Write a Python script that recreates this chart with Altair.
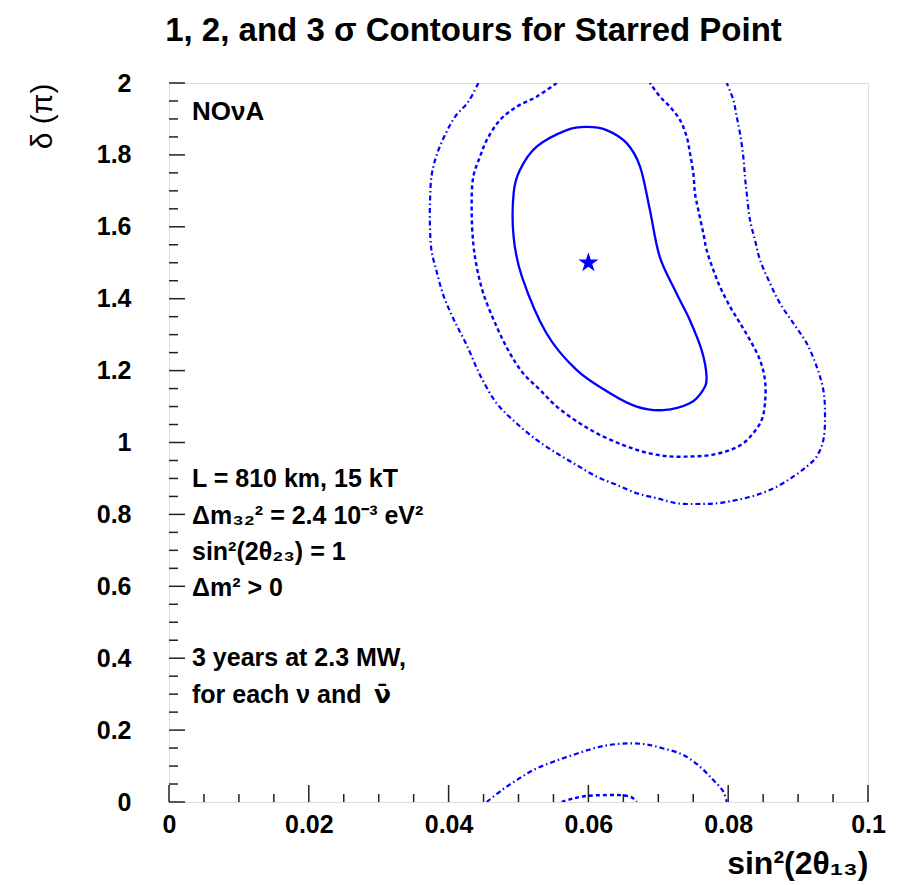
import altair as alt
import pandas as pd

# ---- data ----
star_x = [0.060]
star_y = [1.50]

s1_x = [0.0598, 0.0626, 0.0655, 0.0674, 0.0688, 0.0702, 0.0726, 0.0745, 0.0762, 0.0769, 0.0764, 0.0745,
        0.0707, 0.0669, 0.0631, 0.0583, 0.0540, 0.0505, 0.0493, 0.0493, 0.0502, 0.0526, 0.0569]
s1_y = [1.878, 1.869, 1.832, 1.767, 1.647, 1.517, 1.415, 1.341, 1.257, 1.183, 1.146, 1.109,
        1.090, 1.100, 1.137, 1.202, 1.304, 1.461, 1.572, 1.693, 1.758, 1.823, 1.869]

s2_x = [0.05547, 0.05260, 0.04974, 0.04735, 0.04545, 0.04449, 0.04353, 0.04330, 0.04353, 0.04402,
        0.04496, 0.04688, 0.04878, 0.05069, 0.05308, 0.05547, 0.05880, 0.06166, 0.06499, 0.06785,
        0.07120, 0.07454, 0.07740, 0.08026, 0.08216, 0.08359, 0.08479, 0.08526, 0.08526, 0.08455,
        0.08312, 0.08169, 0.08026, 0.07883, 0.07787, 0.07692, 0.07644, 0.07572, 0.07525, 0.07501,
        0.07454, 0.07406, 0.07310, 0.07167, 0.07024, 0.06881]
s2_y = [2.000, 1.962, 1.934, 1.897, 1.841, 1.795, 1.739, 1.647, 1.554, 1.489,
        1.415, 1.322, 1.248, 1.192, 1.146, 1.100, 1.053, 1.021, 0.993, 0.974,
        0.962, 0.961, 0.965, 0.979, 0.998, 1.026, 1.063, 1.109, 1.174, 1.229,
        1.285, 1.332, 1.378, 1.433, 1.480, 1.535, 1.582, 1.647, 1.693, 1.749,
        1.804, 1.851, 1.897, 1.934, 1.962, 2.000]

s2b_x = [0.05618, 0.05784, 0.05976, 0.06213, 0.06452, 0.06619, 0.06691]
s2b_y = [0.000, 0.010, 0.017, 0.019, 0.019, 0.013, 0.000]

s3_x = [0.04425, 0.04282, 0.04092, 0.03948, 0.03830, 0.03758, 0.03734, 0.03734, 0.03758, 0.03830,
        0.03924, 0.04067, 0.04259, 0.04449, 0.04688, 0.04974, 0.05260, 0.05547, 0.05833, 0.06119,
        0.06405, 0.06691, 0.06977, 0.07263, 0.07549, 0.07835, 0.08122, 0.08408, 0.08694, 0.08931,
        0.09123, 0.09266, 0.09361, 0.09385, 0.09361, 0.09266, 0.09123, 0.08931, 0.08741, 0.08598,
        0.08455, 0.08383, 0.08312, 0.08265, 0.08240, 0.08216, 0.08169, 0.08122, 0.08073, 0.07979]
s3_y = [2.000, 1.948, 1.906, 1.855, 1.800, 1.744, 1.670, 1.596, 1.531, 1.475,
        1.410, 1.345, 1.271, 1.188, 1.109, 1.053, 1.007, 0.970, 0.937, 0.905,
        0.882, 0.859, 0.845, 0.831, 0.829, 0.831, 0.840, 0.854, 0.877, 0.905,
        0.933, 0.961, 1.007, 1.081, 1.146, 1.211, 1.276, 1.332, 1.387, 1.443,
        1.508, 1.563, 1.619, 1.693, 1.739, 1.795, 1.860, 1.906, 1.953, 2.000]

s3b_x = [0.04545, 0.04760, 0.04974, 0.05212, 0.05498, 0.05784, 0.06070, 0.06309, 0.06595, 0.06834,
         0.07072, 0.07358, 0.07597, 0.07787, 0.07930, 0.07979]
s3b_y = [0.000, 0.033, 0.061, 0.089, 0.112, 0.131, 0.149, 0.159, 0.163, 0.160,
         0.149, 0.131, 0.098, 0.061, 0.029, 0.000]

x_major = [0, 0.02, 0.04, 0.06, 0.08, 0.1]
x_minor = [0.005, 0.01, 0.015, 0.025, 0.03, 0.035, 0.045, 0.05, 0.055,
           0.065, 0.07, 0.075, 0.085, 0.09, 0.095]
y_major = [0, 0.2, 0.4, 0.6, 0.8, 1.0, 1.2, 1.4, 1.6, 1.8, 2.0]
y_minor = [0.05, 0.1, 0.15, 0.25, 0.3, 0.35, 0.45, 0.5, 0.55, 0.65, 0.7, 0.75,
           0.85, 0.9, 0.95, 1.05, 1.1, 1.15, 1.25, 1.3, 1.35, 1.45, 1.5, 1.55,
           1.65, 1.7, 1.75, 1.85, 1.9, 1.95]

title_text = "1, 2, and 3 σ Contours for Starred Point"
x_title = "sin²(2θ₁₃)"
y_title = "δ (π)"
label_nova = "NOνA"
info_lines = ["L = 810 km, 15 kT", "Δm₃₂² = 2.4 10⁻³ eV²", "sin²(2θ₂₃) = 1", "Δm² > 0",
              "3 years at 2.3 MW,", "for each ν and"]
nubar = "ν̄"

# ---- layout / style ----
W, H = 699, 719
FONT = "Liberation Sans"
BLUE = "#0000ff"
TXT = 25
info_y = [404, 441, 477, 513, 583, 620]

xs = alt.Scale(domain=[0, 0.1], nice=False, zero=False)
ys = alt.Scale(domain=[0, 2], nice=False, zero=False)


def df_xy(xv, yv):
    return pd.DataFrame({"x": xv, "y": yv, "o": list(range(len(xv)))})


x_axis = alt.Axis(values=x_major, format="~g", title=x_title, ticks=False, tickSize=0, domain=False,
                  grid=False, labelPadding=10, labelFontSize=25, labelFontWeight="bold",
                  labelFont=FONT, labelColor="black", labelOverlap=False, labelFlush=False,
                  titleFont=FONT, titleFontSize=32, titleFontWeight="bold", titleColor="black",
                  titleAlign="right", titleBaseline="alphabetic", titleX=W, titleY=71)
y_axis = alt.Axis(values=y_major, format="~g", title=y_title, ticks=False, tickSize=0, domain=False,
                  grid=False, labelPadding=38, labelFontSize=25, labelFontWeight="bold",
                  labelFont=FONT, labelColor="black", labelOverlap=False,
                  titleFont=FONT, titleFontSize=30, titleFontWeight="normal", titleColor="black",
                  titleAngle=270, titleAlign="right", titleBaseline="middle", titleX=-127, titleY=0)

base_axes = alt.Chart(pd.DataFrame({"x": [0.0], "y": [0.0]})).mark_point(opacity=0).encode(
    x=alt.X("x:Q", scale=xs, axis=x_axis),
    y=alt.Y("y:Q", scale=ys, axis=y_axis),
)


def contour(xv, yv, dash=None, interp="catmull-rom", width=2.2):
    kw = dict(color=BLUE, strokeWidth=width, interpolate=interp, clip=True)
    if dash:
        kw["strokeDash"] = dash
    return alt.Chart(df_xy(xv, yv)).mark_line(**kw).encode(
        x=alt.X("x:Q", scale=xs), y=alt.Y("y:Q", scale=ys), order="o:Q")


c1 = contour(s1_x, s1_y, interp="cardinal-closed", width=2.3)
c2 = contour(s2_x, s2_y, dash=[4, 3], width=2.4)
c2b = contour(s2b_x, s2b_y, dash=[4, 3], width=2.4)
c3 = contour(s3_x, s3_y, dash=[5, 3, 1.5, 3], width=2.2)
c3b = contour(s3b_x, s3b_y, dash=[5, 3, 1.5, 3], width=2.2)

STAR = ("M0,-1L0.223,-0.307L0.951,-0.309L0.361,0.117L0.588,0.809L0,0.38"
        "L-0.588,0.809L-0.361,0.117L-0.951,-0.309L-0.223,-0.307Z")
star = alt.Chart(pd.DataFrame({"x": star_x, "y": star_y})).mark_point(
    shape=STAR, filled=True, color=BLUE, size=450, opacity=1, strokeWidth=0).encode(
    x=alt.X("x:Q", scale=xs), y=alt.Y("y:Q", scale=ys))

# inside tick marks
xmaj = alt.Chart(pd.DataFrame({"x": x_major})).mark_rule(color="#222", strokeWidth=1.5).encode(
    x=alt.X("x:Q", scale=xs), y=alt.value(H), y2=alt.value(H - 17))
xmin = alt.Chart(pd.DataFrame({"x": x_minor})).mark_rule(color="#222", strokeWidth=1.5).encode(
    x=alt.X("x:Q", scale=xs), y=alt.value(H), y2=alt.value(H - 8))
ymaj = alt.Chart(pd.DataFrame({"y": y_major})).mark_rule(color="#222", strokeWidth=1.5).encode(
    y=alt.Y("y:Q", scale=ys), x=alt.value(0), x2=alt.value(16))
ymin = alt.Chart(pd.DataFrame({"y": y_minor})).mark_rule(color="#222", strokeWidth=1.5).encode(
    y=alt.Y("y:Q", scale=ys), x=alt.value(0), x2=alt.value(9))


def text_at(s, px, py, size=TXT, font=FONT):
    return alt.Chart(pd.DataFrame({"t": [s]})).mark_text(
        align="left", baseline="alphabetic", font=font, fontSize=size, fontWeight="bold",
        color="black").encode(text="t:N", x=alt.value(px), y=alt.value(py))


texts = [text_at(label_nova, 23, 37, size=26)]
for line, yy in zip(info_lines, info_y):
    texts.append(text_at(line, 23, yy))
texts.append(text_at(nubar, 205, info_y[-1], font="DejaVu Sans"))

chart = alt.layer(base_axes, xmin, xmaj, ymin, ymaj, c3, c3b, c2, c2b, c1, star, *texts).properties(
    width=W, height=H,
    padding={"left": 169, "top": 83, "right": 30, "bottom": 83},
    autosize=alt.AutoSizeParams(type="none"),
    title=alt.TitleParams(title_text, font=FONT, fontSize=33, fontWeight="bold", color="black",
                          anchor="middle", dx=-45, offset=-3, baseline="alphabetic"),
).configure_view(stroke="black", strokeWidth=2).configure(background="white")

chart.save("out.html", embed_options={"renderer": "svg", "actions": False})
